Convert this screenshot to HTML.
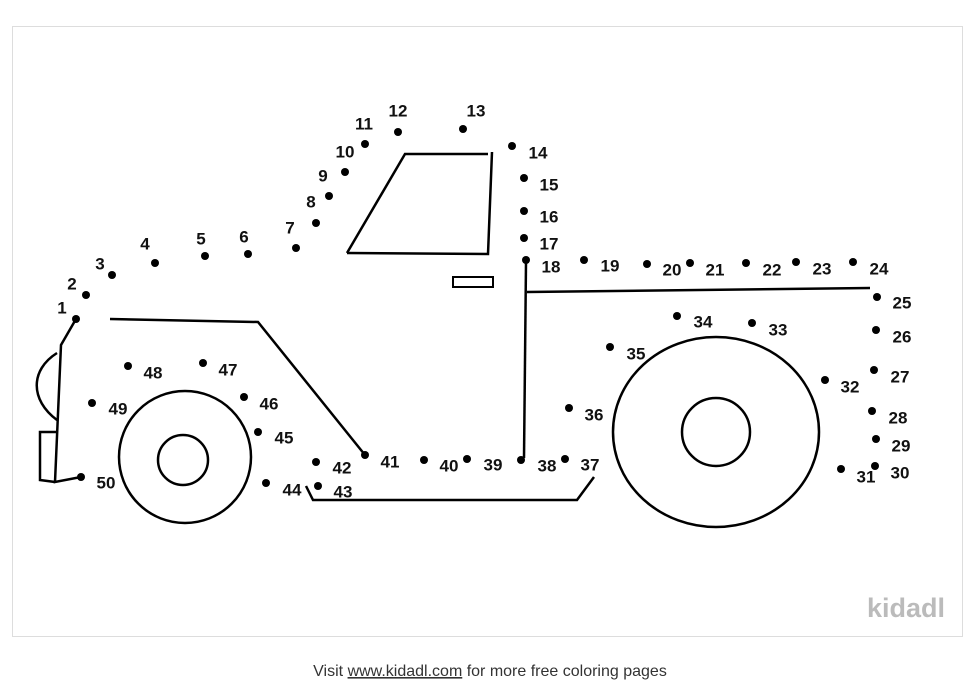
<!DOCTYPE html>
<html><head><meta charset="utf-8"><style>
html,body{margin:0;padding:0;background:#fff;width:980px;height:697px;overflow:hidden}
svg{display:block}
text{font-family:"Liberation Sans",sans-serif}
.n{font-size:17px;font-weight:bold;fill:#111}
</style></head><body>
<svg width="980" height="697" viewBox="0 0 980 697">
<rect x="12.5" y="26.5" width="950" height="610" fill="#fff" stroke="#ddd"/>
<g fill="none" stroke="#000" stroke-width="2.5" stroke-linejoin="miter">
<polyline points="347,253 405,154 488,154"/>
<polyline points="492,152 488,254 347,253"/>
<rect x="453" y="277" width="40" height="10" stroke-width="2"/>
<line x1="526" y1="262" x2="524" y2="458"/>
<line x1="527" y1="292" x2="870" y2="288"/>
<polyline points="110,319 258,322 365,455"/>
<polyline points="306,486 313,500 577,500 594,477"/>
<polyline points="76,319 61,345 55,482 81,477"/>
<path d="M57,353 C30,370 30,400 57,420"/>
<polyline points="57,432 40,432 40,480 55,482"/>
<circle cx="185" cy="457" r="66"/>
<circle cx="183" cy="460" r="25"/>
<ellipse cx="716" cy="432" rx="103" ry="95"/>
<circle cx="716" cy="432" r="34"/>
</g>
<g fill="#000">
<circle cx="76" cy="319" r="4"/><circle cx="86" cy="295" r="4"/><circle cx="112" cy="275" r="4"/><circle cx="155" cy="263" r="4"/><circle cx="205" cy="256" r="4"/><circle cx="248" cy="254" r="4"/><circle cx="296" cy="248" r="4"/><circle cx="316" cy="223" r="4"/><circle cx="329" cy="196" r="4"/><circle cx="345" cy="172" r="4"/><circle cx="365" cy="144" r="4"/><circle cx="398" cy="132" r="4"/><circle cx="463" cy="129" r="4"/><circle cx="512" cy="146" r="4"/><circle cx="524" cy="178" r="4"/><circle cx="524" cy="211" r="4"/><circle cx="524" cy="238" r="4"/><circle cx="526" cy="260" r="4"/><circle cx="584" cy="260" r="4"/><circle cx="647" cy="264" r="4"/><circle cx="690" cy="263" r="4"/><circle cx="746" cy="263" r="4"/><circle cx="796" cy="262" r="4"/><circle cx="853" cy="262" r="4"/><circle cx="877" cy="297" r="4"/><circle cx="876" cy="330" r="4"/><circle cx="874" cy="370" r="4"/><circle cx="872" cy="411" r="4"/><circle cx="876" cy="439" r="4"/><circle cx="875" cy="466" r="4"/><circle cx="841" cy="469" r="4"/><circle cx="825" cy="380" r="4"/><circle cx="752" cy="323" r="4"/><circle cx="677" cy="316" r="4"/><circle cx="610" cy="347" r="4"/><circle cx="569" cy="408" r="4"/><circle cx="565" cy="459" r="4"/><circle cx="521" cy="460" r="4"/><circle cx="467" cy="459" r="4"/><circle cx="424" cy="460" r="4"/><circle cx="365" cy="455" r="4"/><circle cx="316" cy="462" r="4"/><circle cx="318" cy="486" r="4"/><circle cx="266" cy="483" r="4"/><circle cx="258" cy="432" r="4"/><circle cx="244" cy="397" r="4"/><circle cx="203" cy="363" r="4"/><circle cx="128" cy="366" r="4"/><circle cx="92" cy="403" r="4"/><circle cx="81" cy="477" r="4"/>
</g>
<g class="n" text-anchor="middle" dominant-baseline="middle">
<text x="62" y="309">1</text><text x="72" y="285">2</text><text x="100" y="265">3</text><text x="145" y="245">4</text><text x="201" y="240">5</text><text x="244" y="238">6</text><text x="290" y="229">7</text><text x="311" y="203">8</text><text x="323" y="177">9</text><text x="345" y="153">10</text><text x="364" y="125">11</text><text x="398" y="112">12</text><text x="476" y="112">13</text><text x="538" y="154">14</text><text x="549" y="186">15</text><text x="549" y="218">16</text><text x="549" y="245">17</text><text x="551" y="268">18</text><text x="610" y="267">19</text><text x="672" y="271">20</text><text x="715" y="271">21</text><text x="772" y="271">22</text><text x="822" y="270">23</text><text x="879" y="270">24</text><text x="902" y="304">25</text><text x="902" y="338">26</text><text x="900" y="378">27</text><text x="898" y="419">28</text><text x="901" y="447">29</text><text x="900" y="474">30</text><text x="866" y="478">31</text><text x="850" y="388">32</text><text x="778" y="331">33</text><text x="703" y="323">34</text><text x="636" y="355">35</text><text x="594" y="416">36</text><text x="590" y="466">37</text><text x="547" y="467">38</text><text x="493" y="466">39</text><text x="449" y="467">40</text><text x="390" y="463">41</text><text x="342" y="469">42</text><text x="343" y="493">43</text><text x="292" y="491">44</text><text x="284" y="439">45</text><text x="269" y="405">46</text><text x="228" y="371">47</text><text x="153" y="374">48</text><text x="118" y="410">49</text><text x="106" y="484">50</text>
</g>
<text x="906" y="617" text-anchor="middle" font-size="27" font-weight="bold" fill="#bbb">kidadl</text>
<text x="490" y="676" text-anchor="middle" font-size="16" fill="#333">Visit <tspan text-decoration="underline">www.kidadl.com</tspan> for more free coloring pages</text>
</svg>
</body></html>
